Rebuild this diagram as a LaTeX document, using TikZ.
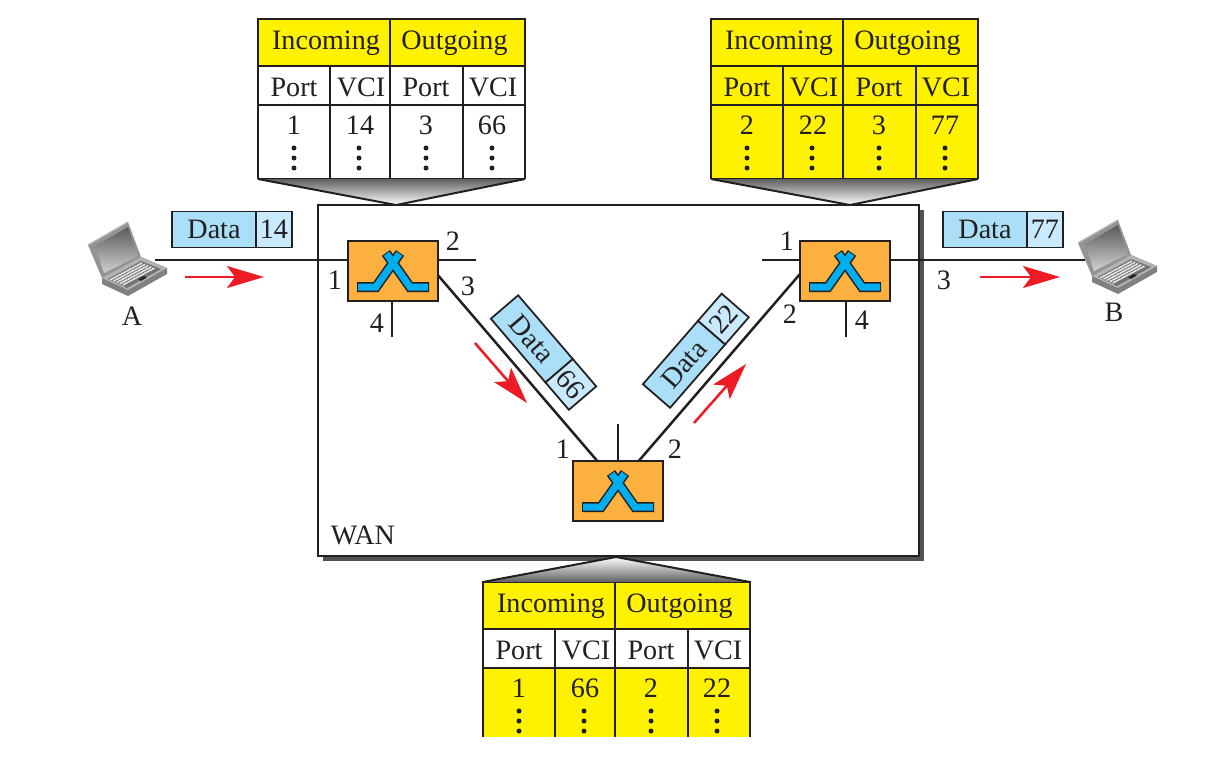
\documentclass[tikz,border=0pt]{standalone}
\usepackage{fontspec}
\setmainfont{Liberation Serif}
\usetikzlibrary{arrows.meta,calc}
\definecolor{ink}{HTML}{231F20}
\definecolor{tyellow}{HTML}{FFF200}
\definecolor{orangebox}{HTML}{FBB040}
\definecolor{cyanicon}{HTML}{00AEEF}
\definecolor{dblue}{HTML}{ABDFF8}
\definecolor{dlight}{HTML}{C9E9FC}
\definecolor{redarrow}{HTML}{ED1C24}
\tikzset{
  txt/.style={font=\fontsize{16}{18}\selectfont,text=ink,inner sep=0pt,outer sep=0pt},
  btxt/.style={txt,anchor=base},
  gridline/.style={draw=ink,line width=0.042cm},
  wire/.style={draw=ink,line width=0.05cm},
  switchbox/.style={draw=ink,line width=0.04cm,fill=orangebox,minimum width=1.8cm,minimum height=1.2cm,inner sep=0pt,outer sep=0pt},
  dcell/.style={txt,draw=ink,line width=0.035cm,fill=dblue,minimum width=1.68cm,minimum height=0.72cm},
  vcell/.style={txt,draw=ink,line width=0.035cm,fill=dlight,minimum width=0.72cm,minimum height=0.72cm},
  flow/.style={draw=redarrow,line width=0.05cm,-{Stealth[length=0.74cm,width=0.44cm,inset=0.16cm]}},
  funnel/.style={draw=ink,line width=0.04cm}
}
\newcommand{\vcitable}[9]{%
\begin{scope}[shift={(#2,#3)}]
  \fill[tyellow] (0,0) rectangle (267,47);
  \fill[#4] (0,47) rectangle (267,86);
  \fill[#5] (0,86) rectangle (267,#6);
  \draw[gridline] (0,#6) -- (0,0) -- (267,0) -- (267,#6);
  \draw[gridline] (0,47) -- (267,47) (0,86) -- (267,86);
  \draw[gridline] (132,0) -- (132,#6);
  \draw[gridline] (72,47) -- (72,#6) (205,47) -- (205,#6);
  \node[btxt] (#1h1) at (68,30) {Incoming};
  \node[btxt] (#1h2) at (196.5,30) {Outgoing};
  \node[btxt] (#1p1) at (36,77) {Port};
  \node[btxt] (#1c1) at (103,77) {VCI};
  \node[btxt] (#1p2) at (168,77) {Port};
  \node[btxt] (#1c2) at (235,77) {VCI};
  \node[btxt] (#1v1) at (36,115) {#7};
  \node[btxt] (#1v2) at (102,115) {#8};
  \node[btxt] (#1v3) at (168,115) {#9};
  \foreach \cx in {36,101,168,234}{\foreach \cy in {129,139,149}{\fill[ink] (\cx,\cy) circle (0.05cm);}}
\end{scope}}
\newcommand{\swicon}[1]{%
  \begin{scope}[shift={(#1)}]
    \draw[ink,line width=0.2cm,miter limit=4] (-36,16) -- (-17,16) -- (7,-18);
    \draw[ink,line width=0.2cm,miter limit=4] (36,16) -- (17,16) -- (-7,-18);
    \draw[cyanicon,line width=0.14cm] (-35,16) -- (-17,16) -- (6.4,-17.2);
    \draw[cyanicon,line width=0.14cm] (35,16) -- (17,16) -- (-6.4,-17.2);
  \end{scope}}
\newcommand{\laptop}[2]{%
  \begin{scope}[shift={(#1,#2)}]
    \fill[black!50] (102,278) -- (141,257) -- (167,268) -- (167,274) -- (128,296) -- (102,284) -- cycle;
    \fill[black!30] (102,278) -- (141,257) -- (167,268) -- (128,290) -- cycle;
    \fill[black!55] (108,279) -- (141,261) -- (161,269) -- (127,288) -- cycle;
    \foreach \i in {0,...,11}{\foreach \j in {0,...,4}{
      \fill[black!8] ({111+\i*2.65+\j*3.1},{279.5-\i*1.42+\j*1.3}) circle (0.021cm);
      \fill[black!8] ({112.2+\i*2.65+\j*3.1},{278.9-\i*1.42+\j*1.3}) circle (0.021cm);}}
    \fill[black!85] (138,279) -- (144,276) -- (147,277.5) -- (141,281) -- cycle;
    \fill[black!42] (88,245) -- (128,222) -- (141,257) -- (102,278) -- cycle;
    \shade[top color=black!65,bottom color=black!18] (95,246) -- (128,227) -- (138,256) -- (104,273) -- cycle;
    \draw[black!28,line width=0.025cm] (88,245) -- (128,222);
  \end{scope}}
\begin{document}
\begin{tikzpicture}[x=0.02cm,y=-0.02cm]
\useasboundingbox (0,0) rectangle (1218,772);
\fill[black!68] (323,210) rectangle (924,561);
\draw[ink,line width=0.04cm,fill=white] (318,205) rectangle (919,556);
\node[txt,anchor=base] (wan) at (363,544) {WAN};
\vcitable{ta}{258}{19}{white}{white}{160}{1}{14}{3}
\node[btxt] (tav4) at (492,134) {66};
\vcitable{tb}{711}{19}{tyellow}{tyellow}{160}{2}{22}{3}
\node[btxt] (tbv4) at (945,134) {77};
\vcitable{tc}{483}{582}{white}{tyellow}{155}{1}{66}{2}
\node[btxt] (tcv4) at (717,697) {22};
\draw[gridline] (258,179) -- (525,179);
\draw[gridline] (711,179) -- (978,179);
\shade[top color=black!62,bottom color=white] (258,179) -- (525,179) -- (396,205) -- cycle;
\draw[funnel] (258,179) -- (396,205) -- (525,179);
\shade[top color=black!62,bottom color=white] (711,179) -- (978,179) -- (850,205) -- cycle;
\draw[funnel] (711,179) -- (850,205) -- (978,179);
\shade[top color=white,bottom color=black!62] (483,582) -- (750,582) -- (616,557) -- cycle;
\draw[funnel] (483,582) -- (616,557) -- (750,582);
\node[switchbox] (s1) at (393,271) {};
\node[switchbox] (s2) at (845,271) {};
\node[switchbox] (s3) at (618,491) {};
\swicon{s1.center}
\swicon{s2.center}
\swicon{s3.center}
\coordinate (pcA) at (155,260);
\coordinate (pcB) at (1085,260);
\coordinate (s1p2) at (476,260);
\coordinate (s1p4) at (392,337);
\coordinate (s2p1) at (762,260);
\coordinate (s2p4) at (846,337);
\coordinate (s3top) at (618,424);
\draw[wire] (pcA) -- (s1.west |- pcA);
\draw[wire] (s1.east |- s1p2) -- (s1p2);
\draw[wire] (s1p4 |- s1.south) -- (s1p4);
\draw[wire] (s2p1) -- (s2.west |- s2p1);
\draw[wire] (s2.east |- pcB) -- (pcB);
\draw[wire] (s2p4 |- s2.south) -- (s2p4);
\draw[wire] (s3top |- s3.north) -- (s3top);
\draw[wire] ($(s1.north east)!0.57!(s1.south east)$) -- ($(s3.north west)!0.27!(s3.north east)$);
\draw[wire] ($(s2.north west)!0.55!(s2.south west)$) -- ($(s3.north west)!0.73!(s3.north east)$);
\laptop{0}{0}
\laptop{990}{-2}
\node[btxt] (la) at (132,325) {A};
\node[btxt] (lb) at (1114,321) {B};
\node[dcell,anchor=west] (d1) at (172,229.5) {Data};
\node[vcell,anchor=west] (d1v) at (d1.east) {14};
\node[dcell,anchor=west] (d2) at (943,229.5) {Data};
\node[vcell,anchor=west] (d2v) at (d2.east) {77};
\node[dcell,anchor=west,rotate=-49.4] (d3) at (504.5,307) {Data};
\node[vcell,anchor=west,rotate=-49.4] (d3v) at (d3.east) {66};
\node[dcell,anchor=west,rotate=49] (d4) at (656.5,396) {Data};
\node[vcell,anchor=west,rotate=49] (d4v) at (d4.east) {22};
\coordinate (f1a) at (185,277); \coordinate (f1b) at (264,277);
\coordinate (f2a) at (980,277); \coordinate (f2b) at (1060,277);
\coordinate (f3a) at (475,343); \coordinate (f3b) at (527,403);
\coordinate (f4a) at (694,423); \coordinate (f4b) at (746,364);
\draw[flow] (f1a) -- (f1b);
\draw[flow] (f2a) -- (f2b);
\draw[flow] (f3a) -- (f3b);
\draw[flow] (f4a) -- (f4b);
\node[btxt] (n1) at (335,289) {1};
\node[btxt] (n2) at (453,250) {2};
\node[btxt] (n3) at (468,295) {3};
\node[btxt] (n4) at (377,332) {4};
\node[btxt] (n5) at (787,250) {1};
\node[btxt] (n6) at (790,323) {2};
\node[btxt] (n7) at (944,289) {3};
\node[btxt] (n8) at (862,329) {4};
\node[btxt] (n9) at (563,458) {1};
\node[btxt] (n10) at (675,458) {2};
\end{tikzpicture}
\end{document}
